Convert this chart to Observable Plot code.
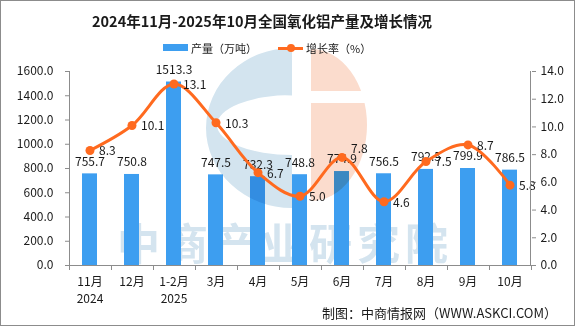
<!DOCTYPE html>
<html><head><meta charset="utf-8">
<script src="https://cdn.jsdelivr.net/npm/d3@7"></script>
<script src="https://cdn.jsdelivr.net/npm/@observablehq/plot@0.6"></script>
<style>
html,body{margin:0;padding:0;background:#fff;}
#wrap{position:relative;width:575px;height:326px;overflow:hidden;font-family:"Noto Sans CJK SC",sans-serif;color:#1a1a1a;}
#wrap svg{position:absolute;left:0;top:0;}
.abs{position:absolute;white-space:nowrap;}
#title{left:0;width:524px;top:11px;line-height:20px;text-align:center;font-size:14.5px;font-weight:700;}
.leg{font-size:11px;line-height:14px;top:41px;}
#footer{right:18px;top:304px;font-size:13px;line-height:17px;}
#border{left:0;top:0;width:575px;height:326px;box-sizing:border-box;border:1px solid #8c8c8c;pointer-events:none;}
</style></head>
<body>
<div id="wrap">
  <div id="chart"></div>
  <div id="title" class="abs">2024年11月-2025年10月全国氧化铝产量及增长情况</div>
  <div class="abs" style="left:163px;top:44px;width:25px;height:7px;background:#3d9ef0;"></div>
  <div class="abs leg" style="left:191px;">产量（万吨）</div>
  <div class="abs" style="left:278px;top:46.5px;width:25px;height:3px;background:#ff6a1f;"></div>
  <div class="abs" style="left:287px;top:44px;width:8px;height:8px;border-radius:50%;background:#ff6a1f;"></div>
  <div class="abs leg" style="left:306px;">增长率（%）</div>
  <div id="footer" class="abs">制图：中商情报网（WWW.ASKCI.COM）</div>
  <div id="border" class="abs"></div>
</div>
<script>
// ---- data ----
const months = ["11月\n2024", "12月", "1-2月\n2025", "3月", "4月", "5月", "6月", "7月", "8月", "9月", "10月"];
const output = [755.7, 750.8, 1513.3, 747.5, 732.3, 748.8, 774.9, 756.5, 792.5, 799.9, 786.5];
const growth = [8.3, 10.1, 13.1, 10.3, 6.7, 5.0, 7.8, 4.6, 7.5, 8.7, 5.8];
const leftTicks = [0, 200, 400, 600, 800, 1000, 1200, 1400, 1600];
const rightTicks = [0, 2, 4, 6, 8, 10, 12, 14];

const k = 1600 / 14; // map right-axis (%) onto left scale
const rows = months.map((m, i) => ({month: m, output: output[i], growth: growth[i], g: growth[i] * k}));

const W = 575, H = 326, mL = 69, mR = 44, mT = 71, mB = 61;
const blue = "#3d9ef0", orange = "#ff6a1f", axisGray = "#8c8c8c";

const plot = Plot.plot({
  width: W, height: H,
  marginLeft: mL, marginRight: mR, marginTop: mT, marginBottom: mB,
  style: {background: "transparent", fontFamily: '"Noto Sans CJK SC", sans-serif', fontSize: "12px", color: "#1a1a1a"},
  x: {domain: months, paddingInner: 0.64, paddingOuter: 0.32, label: null},
  y: {domain: [0, 1600], label: null},
  marks: [
    Plot.barY(rows, {x: "month", y: "output", fill: blue}),
    Plot.axisY({anchor: "left", ticks: leftTicks, tickFormat: d3.format(".1f"), tickSize: 4, tickPadding: 12, stroke: axisGray, label: null}),
    Plot.axisY({anchor: "right", ticks: rightTicks.map(v => v * k), tickFormat: d => (d / k).toFixed(1), tickSize: 4, tickPadding: 5, stroke: axisGray, label: null}),
    Plot.axisX({tickSize: 0, tickPadding: 8, lineHeight: 1.42, label: null}),
    Plot.text(rows, {x: "month", y: "output", text: d => d.output.toFixed(1), dy: -12}),
    Plot.line(rows, {x: "month", y: "g", curve: "catmull-rom", stroke: orange, strokeWidth: 3}),
    Plot.dot(rows, {x: "month", y: "g", r: 4.5, fill: orange}),
    Plot.text(rows, {filter: d => d.month !== "6月", x: "month", y: "g", text: d => d.growth.toFixed(1), dx: 9, dy: 1, textAnchor: "start"}),
    Plot.text(rows, {filter: d => d.month === "6月", x: "month", y: "g", text: d => d.growth.toFixed(1), dx: 9, dy: -8, textAnchor: "start"})
  ]
});
document.getElementById("chart").appendChild(plot);

// ---- axis lines, band-boundary ticks, watermark ----
const svg = d3.select(plot);
const xs = plot.scale("x");
const x0 = xs.range[0], x1 = xs.range[1];
const y0 = H - mB, yTop = mT;
const barG = svg.select("g[aria-label='bar']").node();

// watermark text behind bars
const wm = document.createElementNS("http://www.w3.org/2000/svg", "g");
barG.parentNode.insertBefore(wm, barG);
d3.select(wm).append("text")
  .attr("x", 285).attr("y", 241)
  .attr("text-anchor", "middle").attr("dominant-baseline", "central")
  .attr("font-size", 43).attr("font-weight", 700).attr("letter-spacing", 5)
  .attr("fill", "#d4e4ef")
  .text("中商产业研究院");

// logo over bars, under line
const logo = document.createElementNS("http://www.w3.org/2000/svg", "g");
barG.parentNode.insertBefore(logo, barG.nextSibling);
const lg = d3.select(logo).style("mix-blend-mode", "multiply");
lg.append("path")
  .attr("fill-rule", "evenodd").attr("fill", "#d3e4ef")
  .attr("d", "M292,48 A86,80 0 0 0 292,208 Z M292,95 A75,30 0 0 0 292,155 Z");
lg.append("path")
  .attr("fill", "#fbdccd")
  .attr("d", "M311,49 A56,76 0 0 1 311,201 Z");
lg.append("rect").attr("x", 305).attr("y", 91).attr("width", 70).attr("height", 12).attr("fill", "#fff");

const ax = svg.append("g").attr("stroke", axisGray).attr("stroke-width", 1);
ax.append("line").attr("x1", x0 + 0.5).attr("x2", x0 + 0.5).attr("y1", yTop).attr("y2", y0);
ax.append("line").attr("x1", x1 - 0.5).attr("x2", x1 - 0.5).attr("y1", yTop).attr("y2", y0);
ax.append("line").attr("x1", x0).attr("x2", x1).attr("y1", y0 + 0.5).attr("y2", y0 + 0.5);
const n = months.length;
for (let i = 0; i <= n; i++) {
  const bx = Math.round(x0 + i * (x1 - x0) / n) + 0.5;
  ax.append("line").attr("x1", bx).attr("x2", bx).attr("y1", y0).attr("y2", y0 + 5);
}
</script>
</body></html>
